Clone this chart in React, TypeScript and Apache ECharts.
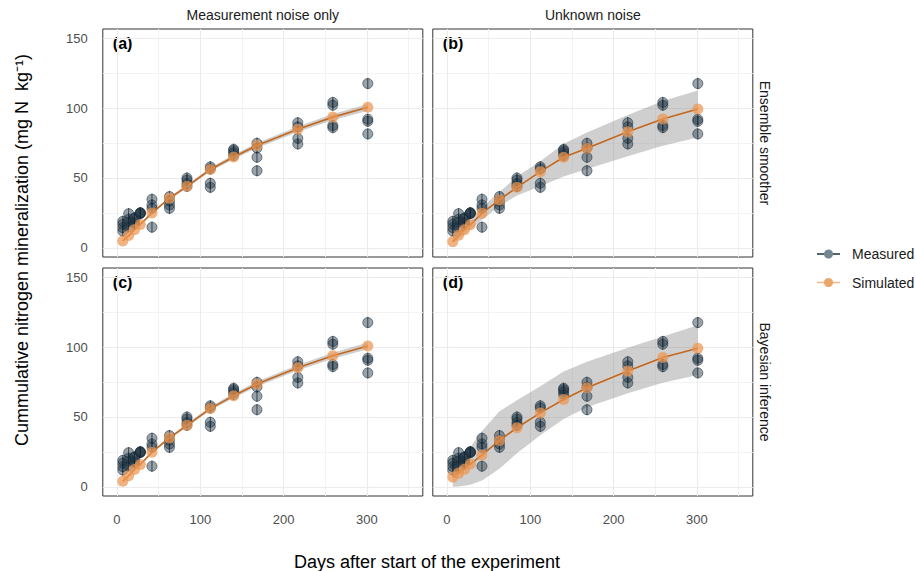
import React, { useEffect, useRef } from 'react';
import * as echarts from 'echarts';

// ---------- data ----------
const DAYS = [7, 14, 21, 28, 42, 63, 84, 112, 140, 168, 217, 259, 301];

// measured replicates at each day
const MEAS_REPS = [
  [12, 14.5, 17, 19],
  [15, 18.5, 20.5, 24.5],
  [17.5, 18.5, 21, 21.5],
  [24.5, 24.8, 25, 25.2],
  [14.8, 28.3, 30.7, 34.8],
  [28.3, 30.7, 33.5, 36.7],
  [44, 46, 48.5, 50],
  [43.3, 46.2, 56.5, 58],
  [66, 68, 69.5, 70.5],
  [55.2, 64.8, 71.4, 74.8],
  [74.3, 78.3, 86.5, 89.5],
  [86, 87.5, 102, 104],
  [81.5, 90.5, 92, 117.5],
];
const MEAS_ERR = 4;

// simulated mean and band per panel
const SIM_A = [5, 8.8, 13, 16.7, 25, 35.5, 44, 56, 65, 73.2, 84.8, 93.5, 100.5];
const UP_A = [5.3, 9.2, 13.5, 17.3, 25.8, 36.5, 45.2, 57.4, 66.6, 75, 86.8, 95.7, 102.9];
const LO_A = [4.7, 8.4, 12.5, 16.1, 24.2, 34.5, 42.8, 54.6, 63.4, 71.4, 82.8, 91.3, 98.1];

const SIM_B = [4.5, 9, 13, 16.5, 24.8, 34.3, 43.3, 54.5, 64.8, 71.2, 83.1, 92.1, 99.3];
const UP_B = [7, 11, 15, 19, 29, 40, 51, 62, 74.5, 82.5, 95, 105, 112.5];
const LO_B = [3.5, 6.5, 10, 13, 20, 30, 37.5, 44, 51, 56.5, 65.5, 73, 79];

const SIM_C = [4, 8, 12.5, 16, 24.8, 35, 44, 56, 65.2, 73.5, 85.2, 93.8, 100.8];
const UP_C = [4.3, 8.4, 13, 16.6, 25.6, 36, 45.2, 57.4, 66.8, 75.3, 87.2, 96, 103.2];
const LO_C = [3.7, 7.6, 12, 15.4, 24, 34, 42.8, 54.6, 63.6, 71.7, 83.2, 91.6, 98.4];

const SIM_D = [7, 9.8, 12.7, 16.3, 22.8, 33.2, 42.3, 52.9, 62.5, 70.9, 82.9, 92.5, 99.2];
const UP_D = [21, 23, 25.5, 28.5, 40, 54, 62, 72, 82.5, 89.5, 99.5, 107.5, 115.5];
const LO_D = [0, 0.3, 0.8, 1.5, 4.5, 13, 24, 37, 48.5, 57, 67, 74.5, 80];

const X_TICKS = [0, 100, 200, 300];
const X_MINOR = [50, 150, 250, 350];
const Y_TICKS = [0, 50, 100, 150];
const Y_MINOR = [25, 75, 125];

const PANEL_TAGS = ['(a)', '(b)', '(c)', '(d)'];
const COL_STRIPS = ['Measurement noise only', 'Unknown noise'];
const ROW_STRIPS = ['Ensemble smoother', 'Bayesian inference'];
const LEGEND_NAMES = ['Measured', 'Simulated'];
const X_TITLE = 'Days after start of the experiment';
const Y_TITLE = 'Cummulative nitrogen mineralization (mg N  kg\u207B\u00B9)';

// ---------- layout ----------
const FONT = '"Liberation Sans", Arial, Helvetica, sans-serif';
const X_MIN = -17, X_MAX = 367, Y_MIN = -6.5, Y_MAX = 156.5;
const PANELS = [
  { left: 102.8, top: 29, sim: SIM_A, up: UP_A, lo: LO_A, showX: false, showY: true },
  { left: 432.8, top: 29, sim: SIM_B, up: UP_B, lo: LO_B, showX: false, showY: false },
  { left: 102.8, top: 268, sim: SIM_C, up: UP_C, lo: LO_C, showX: true, showY: true },
  { left: 432.8, top: 268, sim: SIM_D, up: UP_D, lo: LO_D, showX: true, showY: false },
];
const PW = 320, PH = 228;

export default function App() {
  const ref = useRef<HTMLDivElement>(null);
  useEffect(() => {
    if (!ref.current) return;
    const chart = echarts.init(ref.current, null, { renderer: 'svg' });

    const measured: number[][] = [];
    DAYS.forEach((d, i) => MEAS_REPS[i].forEach((v) => measured.push([d, v])));

    const gridLine = (c: string, w: number) => ({ color: c, width: w, type: 'solid' });
    const markData = [
      ...X_MINOR.map((v) => ({ xAxis: v, lineStyle: gridLine('#f3f3f3', 1) })),
      ...Y_MINOR.map((v) => ({ yAxis: v, lineStyle: gridLine('#f3f3f3', 1) })),
      ...X_TICKS.map((v) => ({ xAxis: v, lineStyle: gridLine('#ebebeb', 1.1) })),
      ...Y_TICKS.map((v) => ({ yAxis: v, lineStyle: gridLine('#ebebeb', 1.1) })),
    ];

    const grids: any[] = [];
    const xAxes: any[] = [];
    const yAxes: any[] = [];
    const series: any[] = [];

    PANELS.forEach((p, i) => {
      grids.push({
        left: p.left, top: p.top, width: PW, height: PH,
        show: true, borderColor: '#333333', borderWidth: 1, backgroundColor: 'transparent',
      });
      xAxes.push({
        type: 'value', gridIndex: i, min: X_MIN, max: X_MAX,
        axisLine: { show: false }, splitLine: { show: false },
        axisTick: { show: p.showX, customValues: X_TICKS, length: 4, lineStyle: { color: '#333333', width: 1 } },
        axisLabel: { show: p.showX, customValues: X_TICKS, color: '#4d4d4d', fontSize: 13, fontFamily: FONT, margin: 17 },
      });
      yAxes.push({
        type: 'value', gridIndex: i, min: Y_MIN, max: Y_MAX,
        axisLine: { show: false }, splitLine: { show: false },
        axisTick: { show: p.showY, customValues: Y_TICKS, length: 4, lineStyle: { color: '#333333', width: 1 } },
        axisLabel: { show: p.showY, customValues: Y_TICKS, color: '#4d4d4d', fontSize: 13, fontFamily: FONT, margin: 15 },
      });
      const bandData = DAYS.map((d, k) => [d, p.lo[k], p.up[k]]);
      series.push({
        type: 'custom', xAxisIndex: i, yAxisIndex: i, z: 2, silent: true,
        data: bandData,
        encode: { x: 0, y: [1, 2] },
        markLine: { silent: true, symbol: 'none', z: 1, label: { show: false }, emphasis: { disabled: true }, data: markData },
        renderItem: (params: any, api: any) => {
          if (params.dataIndex !== 0) return null;
          const upper = bandData.map((r) => api.coord([r[0], r[2]]));
          const lower = bandData.map((r) => api.coord([r[0], r[1]])).reverse();
          return {
            type: 'polygon',
            shape: { points: upper.concat(lower) },
            style: { fill: 'rgba(140,140,140,0.42)', stroke: 'none' },
          };
        },
      });
      series.push({
        type: 'custom', xAxisIndex: i, yAxisIndex: i, z: 4, silent: true,
        data: measured,
        renderItem: (params: any, api: any) => {
          const x = api.value(0), y = api.value(1);
          const c = api.coord([x, y]);
          const t = api.coord([x, y + MEAS_ERR]);
          const b = api.coord([x, y - MEAS_ERR]);
          return {
            type: 'group',
            children: [
              { type: 'circle', shape: { cx: c[0], cy: c[1], r: 5 }, style: { fill: 'rgba(30,52,66,0.45)', stroke: 'rgba(25,45,58,0.7)', lineWidth: 0.8 } },
              { type: 'line', shape: { x1: c[0], y1: t[1], x2: c[0], y2: b[1] }, style: { stroke: 'rgba(20,38,50,0.85)', lineWidth: 0.9 } },
            ],
          };
        },
      });
      series.push({
        type: 'line', xAxisIndex: i, yAxisIndex: i, z: 5, silent: true,
        symbol: 'circle', symbolSize: 11,
        itemStyle: { color: 'rgba(236,150,80,0.72)', borderWidth: 0 },
        lineStyle: { color: '#c4671c', width: 1.6 },
        data: DAYS.map((d, k) => [d, p.sim[k]]),
      });
    });

    const txt = (x: number, y: number, text: string, opts: any = {}) => ({
      type: 'text', x, y, rotation: opts.rotation || 0, silent: true,
      style: {
        text, fill: opts.fill || '#1a1a1a', fontSize: opts.fontSize || 14, fontFamily: FONT,
        fontWeight: opts.fontWeight || 'normal', align: opts.align || 'center', verticalAlign: 'middle',
      },
    });

    const graphics: any[] = [];
    PANELS.forEach((p, i) => {
      graphics.push(txt(p.left + 10, p.top + 14, PANEL_TAGS[i], { align: 'left', fontWeight: 'bold', fontSize: 16, fill: '#000' }));
    });
    graphics.push(txt(102.8 + PW / 2, 15, COL_STRIPS[0]));
    graphics.push(txt(432.8 + PW / 2, 15, COL_STRIPS[1]));
    graphics.push(txt(765, 29 + PH / 2, ROW_STRIPS[0], { rotation: -Math.PI / 2 }));
    graphics.push(txt(765, 268 + PH / 2, ROW_STRIPS[1], { rotation: -Math.PI / 2 }));
    graphics.push(txt(427, 562, X_TITLE, { fontSize: 18, fill: '#000' }));
    graphics.push(txt(22, 250, Y_TITLE, { fontSize: 18, fill: '#000', rotation: Math.PI / 2 }));

    // legend
    const LEG = [
      { y: 254, line: '#2b3f4c', dot: '#728591' },
      { y: 282.5, line: '#f1b98c', dot: '#eca66a' },
    ];
    LEG.forEach((l, i) => {
      graphics.push({ type: 'line', silent: true, shape: { x1: 817, y1: l.y, x2: 840, y2: l.y }, style: { stroke: l.line, lineWidth: 1.6 } });
      graphics.push({ type: 'circle', silent: true, shape: { cx: 828.5, cy: l.y, r: 4.5 }, style: { fill: l.dot } });
      graphics.push(txt(852, l.y, LEGEND_NAMES[i], { align: 'left', fill: '#1a1a1a' }));
    });

    chart.setOption({
      animation: false,
      backgroundColor: '#ffffff',
      grid: grids,
      xAxis: xAxes,
      yAxis: yAxes,
      series,
      graphic: graphics,
    });
    return () => chart.dispose();
  }, []);
  return <div ref={ref} style={{ position: 'fixed', left: 0, top: 0, width: 916, height: 571 }} />;
}
